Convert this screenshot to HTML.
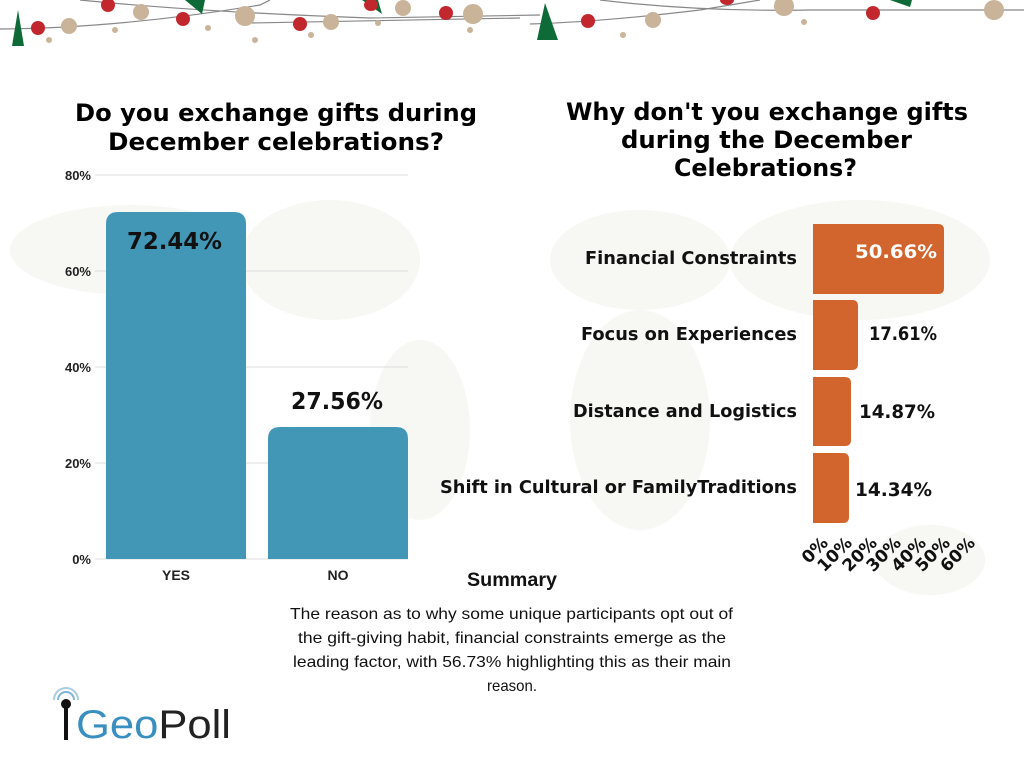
<!DOCTYPE html>
<html><head><meta charset="utf-8"><style>
body{margin:0;background:#fff;width:1024px;height:768px;overflow:hidden;font-family:"Liberation Sans",sans-serif}
</style></head><body>
<svg width="1024" height="768" viewBox="0 0 1024 768" xmlns="http://www.w3.org/2000/svg" font-family="DejaVu Sans, Liberation Sans, sans-serif">
<g fill="#f7f7f4">
<ellipse cx="130" cy="250" rx="120" ry="45"/>
<ellipse cx="330" cy="260" rx="90" ry="60"/>
<ellipse cx="420" cy="430" rx="50" ry="90"/>
<ellipse cx="640" cy="260" rx="90" ry="50"/>
<ellipse cx="640" cy="420" rx="70" ry="110"/>
<ellipse cx="860" cy="260" rx="130" ry="60"/>
<ellipse cx="930" cy="560" rx="55" ry="35"/>
</g>
<g stroke="#888" stroke-width="1.2" fill="none">
<path d="M0 29 Q120 28 260 5 L270 0"/>
<path d="M80 0 Q200 12 370 18 L540 15"/>
<path d="M250 23 L520 18"/>
<path d="M530 24 Q600 22 700 10 L760 0"/>
<path d="M600 0 Q700 12 810 10 L1024 10"/>
</g>
<g fill="#0e6b37">
<polygon points="12,46 24,46 18,10"/><polygon points="537,40 558,40 545,3"/>
<polygon points="185,0 202,14 205,0"/><polygon points="362,0 382,14 378,0"/><polygon points="890,0 910,7 912,0"/>
</g>
<g fill="#c1272d">
<ellipse cx="38" cy="28" rx="7" ry="7"/><ellipse cx="108" cy="5" rx="7" ry="7"/><ellipse cx="183" cy="19" rx="7" ry="7"/>
<ellipse cx="300" cy="24" rx="7" ry="7"/><ellipse cx="371" cy="5" rx="7" ry="6"/><ellipse cx="446" cy="13" rx="7" ry="7"/>
<ellipse cx="588" cy="21" rx="7" ry="7"/><ellipse cx="727" cy="0" rx="7" ry="5"/><ellipse cx="873" cy="13" rx="7" ry="7"/>
</g>
<g fill="#c9b49a">
<circle cx="69" cy="26" r="8"/><circle cx="141" cy="12" r="8"/><circle cx="245" cy="16" r="10"/><circle cx="331" cy="22" r="8"/>
<circle cx="403" cy="8" r="8"/><circle cx="473" cy="14" r="10"/><circle cx="653" cy="20" r="8"/><circle cx="784" cy="6" r="10"/><circle cx="994" cy="10" r="10"/>
<circle cx="49" cy="40" r="3"/><circle cx="115" cy="30" r="3"/><circle cx="208" cy="28" r="3"/><circle cx="255" cy="40" r="3"/><circle cx="311" cy="35" r="3"/><circle cx="378" cy="23" r="3"/><circle cx="470" cy="30" r="3"/><circle cx="623" cy="35" r="3"/><circle cx="804" cy="22" r="3"/>
</g>
<g font-size="24" font-weight="bold" fill="#000" lengthAdjust="spacingAndGlyphs">
<text x="75" y="121" textLength="402" lengthAdjust="spacingAndGlyphs">Do you exchange gifts during</text>
<text x="108" y="150" textLength="336" lengthAdjust="spacingAndGlyphs">December celebrations?</text>
<text x="566" y="120" textLength="402" lengthAdjust="spacingAndGlyphs">Why don't you exchange gifts</text>
<text x="621" y="148" textLength="291" lengthAdjust="spacingAndGlyphs">during the December</text>
<text x="674" y="176" textLength="183" lengthAdjust="spacingAndGlyphs">Celebrations?</text>
</g>
<g stroke="#ddd" stroke-width="1">
<line x1="95" y1="175" x2="408" y2="175"/><line x1="95" y1="271" x2="408" y2="271"/><line x1="95" y1="367" x2="408" y2="367"/><line x1="95" y1="463" x2="408" y2="463"/><line x1="95" y1="559" x2="408" y2="559"/>
</g>
<g font-size="13" font-weight="bold" text-anchor="end" fill="#222" font-family="Liberation Sans, sans-serif">
<text x="91" y="180">80%</text><text x="91" y="276">60%</text><text x="91" y="372">40%</text><text x="91" y="468">20%</text><text x="91" y="564">0%</text>
</g>
<path d="M106 559 V224 Q106 212 118 212 H234 Q246 212 246 224 V559 Z" fill="#4297b6"/>
<path d="M268 559 V439 Q268 427 280 427 H396 Q408 427 408 439 V559 Z" fill="#4297b6"/>
<g font-size="23" font-weight="bold" fill="#111">
<text x="127" y="249" textLength="95" lengthAdjust="spacingAndGlyphs">72.44%</text>
<text x="291" y="409" textLength="92" lengthAdjust="spacingAndGlyphs">27.56%</text>
</g>
<g font-size="14" font-weight="bold" text-anchor="middle" fill="#222" font-family="Liberation Sans, sans-serif">
<text x="176" y="580">YES</text><text x="338" y="580">NO</text>
</g>
<g fill="#d2642e">
<path d="M813 224 H938 Q944 224 944 230 V288 Q944 294 938 294 H813 Z"/>
<path d="M813 300 H852 Q858 300 858 306 V364 Q858 370 852 370 H813 Z"/>
<path d="M813 377 H845 Q851 377 851 383 V440 Q851 446 845 446 H813 Z"/>
<path d="M813 453 H843 Q849 453 849 459 V517 Q849 523 843 523 H813 Z"/>
</g>
<g font-size="18" font-weight="bold" fill="#111">
<text x="585" y="264" textLength="212" lengthAdjust="spacingAndGlyphs">Financial Constraints</text>
<text x="581" y="340" textLength="216" lengthAdjust="spacingAndGlyphs">Focus on Experiences</text>
<text x="573" y="417" textLength="224" lengthAdjust="spacingAndGlyphs">Distance and Logistics</text>
<text x="440" y="493" textLength="357" lengthAdjust="spacingAndGlyphs">Shift in Cultural or FamilyTraditions</text>
</g>
<text x="855" y="258" font-size="19" font-weight="bold" fill="#fff" textLength="82" lengthAdjust="spacingAndGlyphs">50.66%</text>
<g font-size="19" font-weight="bold" fill="#111">
<text x="869" y="340" textLength="68" lengthAdjust="spacingAndGlyphs">17.61%</text>
<text x="859" y="418" textLength="76" lengthAdjust="spacingAndGlyphs">14.87%</text>
<text x="855" y="496" textLength="77" lengthAdjust="spacingAndGlyphs">14.34%</text>
</g>
<g font-size="17" font-weight="bold" text-anchor="end" fill="#111">
<text transform="translate(829,544) rotate(-45)">0%</text>
<text transform="translate(853,544) rotate(-45)">10%</text>
<text transform="translate(878,544) rotate(-45)">20%</text>
<text transform="translate(902,544) rotate(-45)">30%</text>
<text transform="translate(927,544) rotate(-45)">40%</text>
<text transform="translate(951,544) rotate(-45)">50%</text>
<text transform="translate(976,544) rotate(-45)">60%</text>
</g>
<text x="467" y="586" font-size="19" font-weight="bold" fill="#111" font-family="Liberation Sans, sans-serif" textLength="90" lengthAdjust="spacingAndGlyphs">Summary</text>
<g font-size="16" fill="#111" font-family="Liberation Sans, sans-serif">
<text x="290" y="619" textLength="443" lengthAdjust="spacingAndGlyphs">The reason as to why some unique participants opt out of</text>
<text x="298" y="643" textLength="428" lengthAdjust="spacingAndGlyphs">the gift-giving habit, financial constraints emerge as the</text>
<text x="293" y="667" textLength="438" lengthAdjust="spacingAndGlyphs">leading factor, with 56.73% highlighting this as their main</text>
<text x="487" y="691" textLength="50" lengthAdjust="spacingAndGlyphs">reason.</text>
</g>
<g>
<path d="M58 700 a8 8 0 0 1 16 0" stroke="#7fb5d6" stroke-width="2" fill="none"/>
<path d="M54 700 a12 12 0 0 1 24 0" stroke="#a9cde3" stroke-width="2" fill="none"/>
<circle cx="66" cy="704" r="5" fill="#111"/>
<rect x="64" y="708" width="4" height="32" fill="#111"/>
<text x="76" y="738" font-size="40" fill="#3a8fc1" font-family="Liberation Sans, sans-serif" textLength="155" lengthAdjust="spacingAndGlyphs">Geo<tspan fill="#222">Poll</tspan></text>
</g>
</svg>
</body></html>
